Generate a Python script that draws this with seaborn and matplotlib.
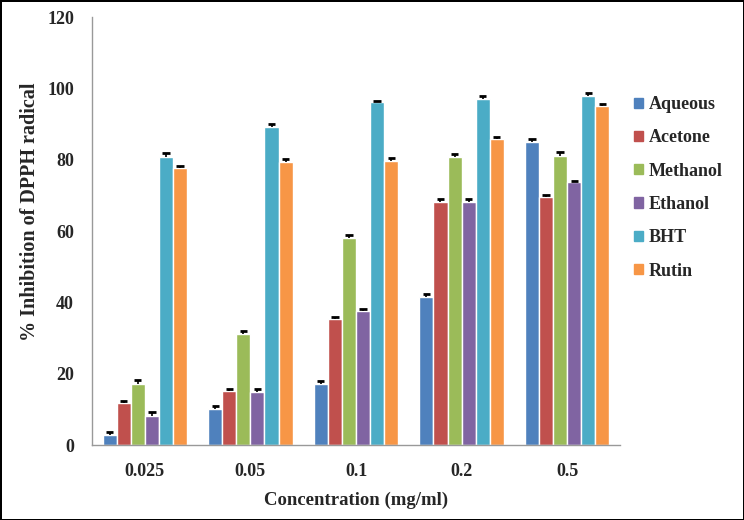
import pandas as pd
import matplotlib
matplotlib.use("Agg")
import matplotlib.pyplot as plt
import seaborn as sns

# values
concentrations = ["0.025", "0.05", "0.1", "0.2", "0.5"]
extracts = ["Aqueous", "Acetone", "Methanol", "Ethanol", "BHT", "Rutin"]
aqueous = [2.8, 10.0, 17.0, 41.5, 84.9]
acetone = [11.8, 15.1, 35.3, 68.2, 69.6]
methanol = [17.2, 31.0, 58.0, 80.7, 81.1]
ethanol = [8.0, 14.9, 37.6, 68.2, 73.6]
bht = [80.8, 89.2, 96.2, 96.9, 97.9]
rutin = [77.6, 79.3, 79.7, 85.7, 95.1]
err_aqueous = [0.5, 0.6, 0.7, 0.6, 0.7]
err_acetone = [0.4, 0.4, 0.4, 0.6, 0.3]
err_methanol = [0.8, 0.6, 0.7, 0.5, 0.7]
err_ethanol = [0.9, 0.6, 0.3, 0.4, 0.2]
err_bht = [0.7, 0.6, 0.0, 0.6, 0.5]
err_rutin = [0.5, 0.6, 0.5, 0.3, 0.2]

colors = ["#4F81BD", "#C0504D", "#9BBB59", "#8064A2", "#4BACC6", "#F79646"]

vals = [aqueous, acetone, methanol, ethanol, bht, rutin]
errs = [err_aqueous, err_acetone, err_methanol, err_ethanol, err_bht, err_rutin]
rows = []
for name, v in zip(extracts, vals):
    for c, y in zip(concentrations, v):
        rows.append({"conc": c, "extract": name, "inhibition": y})
df = pd.DataFrame(rows)

sns.set_style("white")
plt.rcParams["font.family"] = ["Liberation Serif", "DejaVu Serif"]
plt.rcParams["font.weight"] = "bold"

fig = plt.figure(figsize=(7.44, 5.2), dpi=100)
fig.patch.set_edgecolor("black")
fig.patch.set_linewidth(2)
ax = fig.add_axes([92/744, 75/520, 528/744, 428/520])

sns.barplot(data=df, x="conc", y="inhibition", hue="extract", order=concentrations,
            hue_order=extracts, palette=colors, width=0.8, saturation=1,
            errorbar=None, legend=False, ax=ax)

# plus-only error bars (T shape) on top of each bar
for cont, e in zip(ax.containers, errs):
    for p, err in zip(cont.patches, e):
        xc = p.get_x() + p.get_width() / 2
        top = p.get_height()
        ax.vlines(xc, top, top + err, color="black", lw=1.2, zorder=3)
        ax.hlines(top + err + 0.25, xc - 0.035, xc + 0.035, color="black", lw=2, zorder=3)

ax.set_ylim(0, 120)
ax.set_xlim(-0.5, 4.5)
ax.set_yticks(range(0, 121, 20))
ax.set_ylabel("% Inhibition of DPPH radical", fontsize=14.5, fontweight="bold")
ax.yaxis.set_label_coords(-0.117, 0.544)
ax.set_xlabel("Concentration (mg/ml)", fontsize=13.5, fontweight="bold")
ax.xaxis.set_label_coords(0.5, -0.1285)
ax.xaxis.label.set_va("center")
ax.yaxis.label.set_va("center")

for s in ["top", "right"]:
    ax.spines[s].set_visible(False)
for s in ["left", "bottom"]:
    ax.spines[s].set_color("#999999")
    ax.spines[s].set_linewidth(1)

ax.tick_params(axis="y", direction="out", length=5, color="#999999", labelsize=13, pad=8)
ax.tick_params(axis="x", which="major", length=0, labelsize=13, pad=13)
ax.set_xticks([i - 0.5 for i in range(6)], minor=True)
ax.tick_params(axis="x", which="minor", direction="out", length=5, color="#999999")
for lab in ax.get_xticklabels() + ax.get_yticklabels():
    lab.set_fontweight("bold")

handles = [plt.Rectangle((0, 0), 1, 1, color=c) for c in colors]
fig.legend(handles, extracts, loc="upper left", bbox_to_anchor=(618/744, 1 - 80/520),
           frameon=False, handlelength=0.5, handleheight=0.5, handletextpad=0.3,
           labelspacing=0.9, prop={"size": 13, "weight": "bold"})

fig.savefig("out.png", dpi=100, edgecolor=fig.get_edgecolor())
